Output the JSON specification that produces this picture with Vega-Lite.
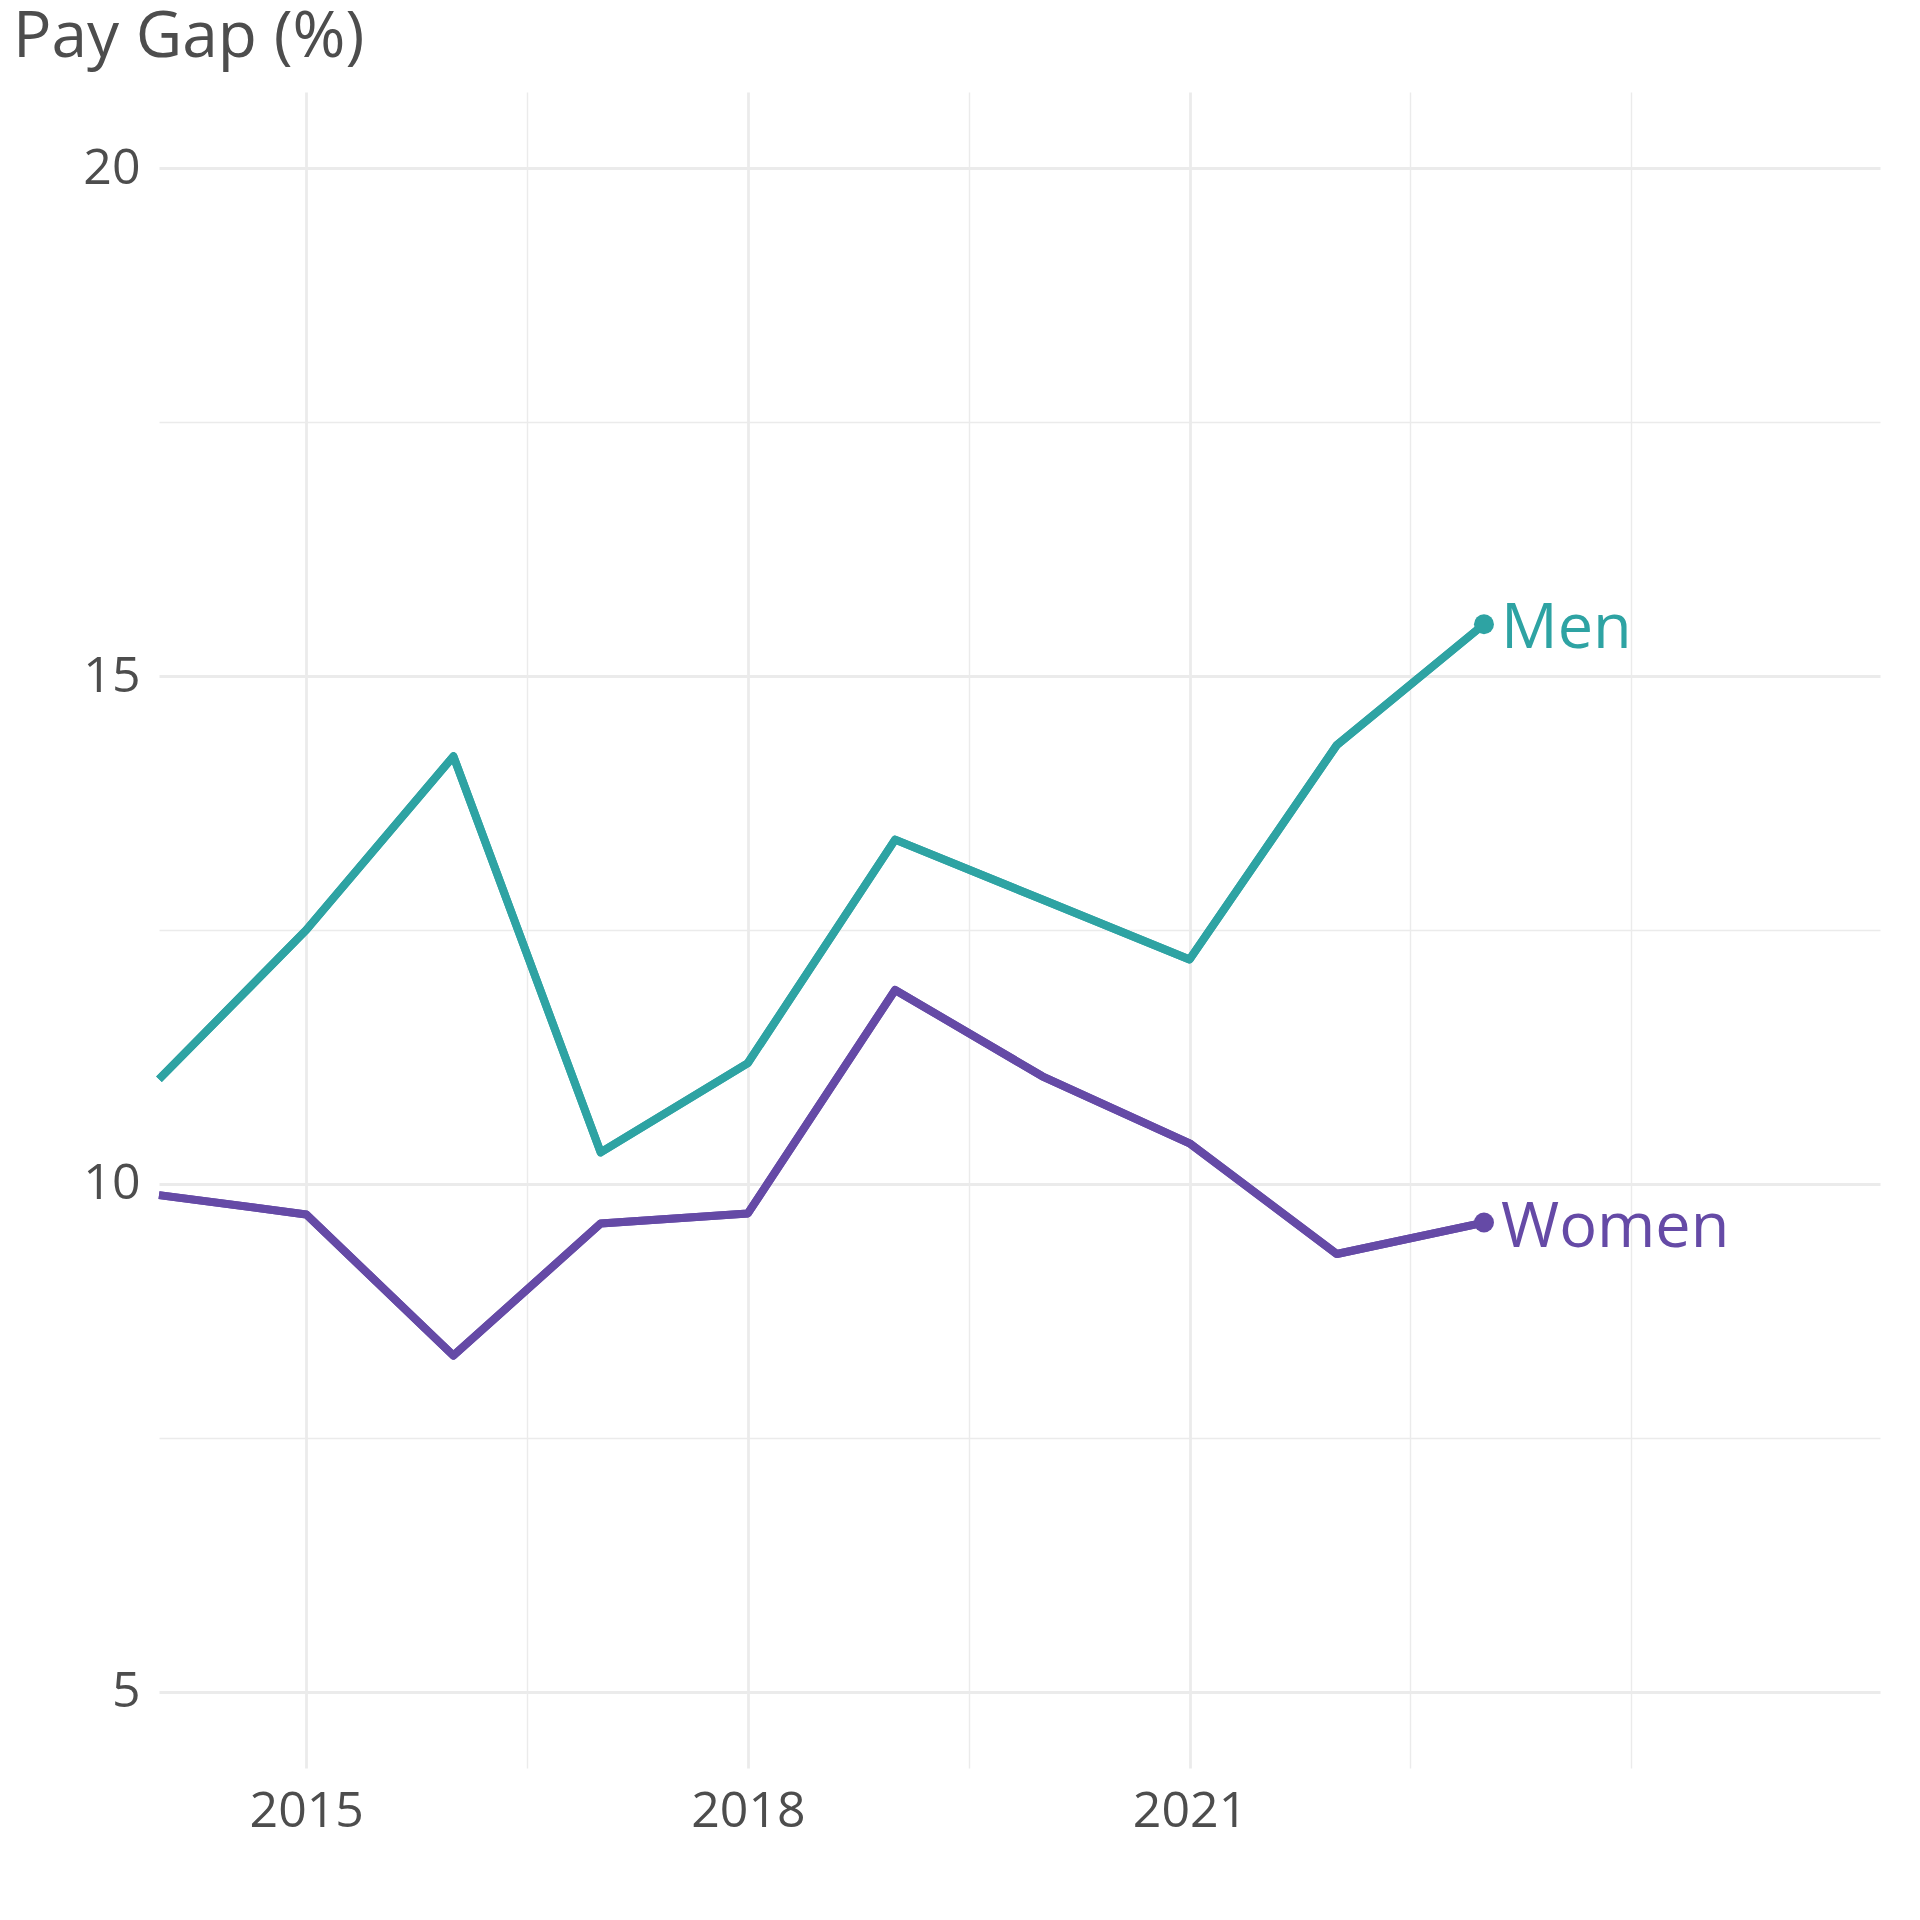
{
  "$schema": "https://vega.github.io/schema/vega-lite/v6.json",
  "width": 1721,
  "height": 1676,
  "autosize": {"type": "none"},
  "padding": {"left": 159, "top": 92, "right": 40, "bottom": 152},
  "background": "white",
  "title": {
    "text": "Pay Gap (%)",
    "anchor": "start",
    "frame": "group",
    "font": "Open Sans",
    "fontSize": 64,
    "fontWeight": "normal",
    "color": "#4D4D4D",
    "dx": -146,
    "dy": 62,
    "offset": 33,
    "baseline": "alphabetic"
  },
  "config": {
    "view": {"stroke": null},
    "axis": {
      "domain": false,
      "ticks": false,
      "gridColor": "#EBEBEB",
      "labelFont": "Open Sans",
      "labelFontSize": 50,
      "labelColor": "#4D4D4D",
      "title": null
    }
  },
  "data": {
    "values": [
      {"year": 2014, "series": "Men", "gap": 11.03},
      {"year": 2015, "series": "Men", "gap": 12.5},
      {"year": 2016, "series": "Men", "gap": 14.21},
      {"year": 2017, "series": "Men", "gap": 10.31},
      {"year": 2018, "series": "Men", "gap": 11.19},
      {"year": 2019, "series": "Men", "gap": 13.39},
      {"year": 2020, "series": "Men", "gap": 12.8},
      {"year": 2021, "series": "Men", "gap": 12.21},
      {"year": 2022, "series": "Men", "gap": 14.32},
      {"year": 2023, "series": "Men", "gap": 15.51},
      {"year": 2014, "series": "Women", "gap": 9.89},
      {"year": 2015, "series": "Women", "gap": 9.7},
      {"year": 2016, "series": "Women", "gap": 8.31},
      {"year": 2017, "series": "Women", "gap": 9.61},
      {"year": 2018, "series": "Women", "gap": 9.71},
      {"year": 2019, "series": "Women", "gap": 11.91},
      {"year": 2020, "series": "Women", "gap": 11.06},
      {"year": 2021, "series": "Women", "gap": 10.4},
      {"year": 2022, "series": "Women", "gap": 9.31},
      {"year": 2023, "series": "Women", "gap": 9.62}
    ]
  },
  "layer": [
    {
      "mark": {"type": "line", "strokeWidth": 8, "strokeJoin": "round"},
      "encoding": {
        "x": {
          "field": "year", "type": "quantitative",
          "scale": {"domain": [2014, 2025.69], "nice": false, "zero": false},
          "axis": {"orient": "bottom", "values": [2016.5, 2019.5, 2022.5, 2024], "grid": true, "gridWidth": 1.4, "labels": false}
        },
        "y": {
          "field": "gap", "type": "quantitative",
          "scale": {"domain": [4.25, 20.75], "nice": false, "zero": false},
          "axis": {"orient": "left", "values": [7.5, 12.5, 17.5], "grid": true, "gridWidth": 1.4, "labels": false}
        },
        "color": {
          "field": "series", "type": "nominal",
          "scale": {"domain": ["Men", "Women"], "range": ["#2EA3A3", "#654AA6"]},
          "legend": null
        }
      }
    },
    {
      "mark": {"type": "line", "strokeWidth": 8, "strokeJoin": "round"},
      "encoding": {
        "x": {
          "field": "year", "type": "quantitative",
          "axis": {"orient": "bottom", "values": [2015, 2018, 2021], "grid": true, "gridWidth": 2.8, "labelPadding": 18, "format": "d"}
        },
        "y": {
          "field": "gap", "type": "quantitative",
          "axis": {"orient": "left", "values": [5, 10, 15, 20], "grid": true, "gridWidth": 2.8, "labelPadding": 19, "format": "d"}
        },
        "color": {"field": "series", "type": "nominal", "legend": null}
      }
    },
    {
      "transform": [{"filter": "datum.year == 2023"}],
      "mark": {"type": "circle", "size": 400, "opacity": 1},
      "encoding": {
        "x": {"field": "year", "type": "quantitative", "axis": null},
        "y": {"field": "gap", "type": "quantitative", "axis": null},
        "color": {"field": "series", "type": "nominal", "legend": null}
      }
    },
    {
      "transform": [{"filter": "datum.year == 2023"}],
      "mark": {"type": "text", "align": "left", "baseline": "alphabetic", "dx": 17, "dy": 24, "font": "Open Sans", "fontSize": 63},
      "encoding": {
        "x": {"field": "year", "type": "quantitative", "axis": null},
        "y": {"field": "gap", "type": "quantitative", "axis": null},
        "text": {"field": "series"},
        "color": {"field": "series", "type": "nominal", "legend": null}
      }
    }
  ],
  "resolve": {"axis": {"x": "independent", "y": "independent"}}
}
